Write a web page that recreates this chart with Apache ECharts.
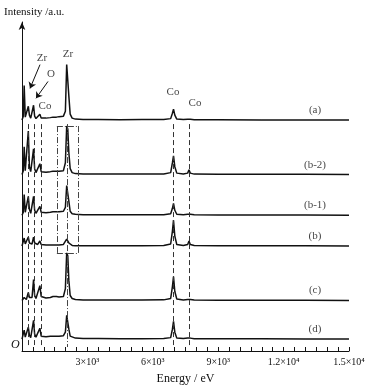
<!DOCTYPE html>
<html><head><meta charset="utf-8">
<script src="https://cdn.jsdelivr.net/npm/echarts@6/dist/echarts.min.js"></script>
<style>html,body{margin:0;padding:0;background:#fff}#c{width:373px;height:390px}</style>
</head><body><div id="c"></div>
<script>
// Energy grid (eV)
const energy = [0, 60, 100, 150, 200, 240, 290, 340, 400, 460, 530, 580, 640, 720, 820, 880, 960, 1100, 1300, 1420, 1500, 1580, 1700, 1900, 1990, 2050, 2100, 2150, 2210, 2300, 2450, 2800, 3500, 4500, 5500, 6500, 6820, 6900, 6950, 7010, 7100, 7400, 7600, 7660, 7720, 7900, 9000, 11000, 13000, 15000];
// Intensities (a.u.) relative to each spectrum's baseline
const specA  = [0, 4, 35, 3, 1, 4, 14, 5, 2, 3, 15, 4, 1.5, 2, 6, 2, 1.5, 2, 2.5, 3, 4, 3, 3.5, 4, 9, 56, 54, 24, 6, 2, 1, 0.5, 0.6, 0.4, 0.5, 0.6, 1.5, 7, 11, 5, 1, 0.5, 0.8, 2, 0.8, 0.4, 0.3, 0.2, 0.2, 0];
const specB2 = [0, 4, 28, 4, 2, 6, 44, 8, 3, 5, 26, 6, 2, 3, 11, 3, 2, 2.5, 3, 3.5, 5, 3.5, 3.5, 4, 12, 49, 46, 22, 6, 2, 1, 0.6, 0.5, 0.5, 0.5, 0.6, 2, 12, 19, 8, 1.5, 0.6, 1.5, 5, 1.5, 0.5, 0.4, 0.3, 0.3, 0];
const specB1 = [0, 3, 21, 3, 2, 5, 19, 6, 2, 4, 19, 5, 2, 3, 9, 3, 2, 2.5, 3, 3.5, 5, 3.5, 3.5, 4, 8, 30, 28, 14, 4, 1.5, 1, 0.5, 0.5, 0.4, 0.4, 0.5, 1.5, 7, 12, 5, 1, 0.5, 1, 3, 1, 0.4, 0.3, 0.3, 0.2, 0];
const specB  = [0, 2, 8, 2, 1, 3, 9, 3, 1, 2, 9, 3, 1, 1.5, 5, 1.5, 1, 1, 1, 1, 1.5, 1, 1, 1.5, 2.5, 7, 6, 3, 1, 0.5, 0.3, 0.3, 0.3, 0.3, 0.3, 0.5, 2, 15, 26, 10, 1.5, 0.5, 1.5, 5, 1.5, 0.4, 0.3, 0.3, 0.2, 0];
const specC  = [0, 1, 3, 1, 1, 2, 8, 3, 1.5, 3, 21, 5, 2, 3, 15, 4, 2, 2.5, 3, 4, 6, 4, 3.5, 4, 12, 48, 45, 20, 5, 2, 1, 0.5, 0.5, 0.4, 0.4, 0.6, 2, 14, 24, 9, 1.5, 0.5, 1, 3, 1, 0.4, 0.3, 0.3, 0.2, 0];
const specD  = [0, 2, 9, 2, 1, 3, 12, 4, 1.5, 3, 19, 5, 2, 3, 11, 3, 2, 2.5, 3, 3, 4, 3, 3, 3.5, 7, 24, 22, 10, 3, 1.5, 1, 0.5, 0.5, 0.4, 0.4, 0.5, 1.5, 10, 18, 7, 1, 0.5, 1, 3, 1, 0.4, 0.3, 0.3, 0.2, 0];
const spectra = [specA, specB2, specB1, specB, specC, specD];
const spectrumNames = ['(a)', '(b-2)', '(b-1)', '(b)', '(c)', '(d)'];
const offsets = [233, 178, 137, 106, 51, 12];
// X tick labels
const tickValues = [3000, 6000, 9000, 12000, 15000];
const tickLabels = ['3×10³', '6×10³', '9×10³', '1.2×10⁴', '1.5×10⁴'];
// Peak annotations [energy, height, text]
const peakNotes = [[917, 296, 'Zr'], [1330, 279, 'O'], [1055, 247, 'Co'], [2110, 300, 'Zr'], [6927, 261, 'Co'], [7936, 250, 'Co']];
// Guide line energies
const dashEnergies = [300, 560, 880, 6930, 7660];
const zrLine = 2080;
const boxE = [1600, 2600];
const boxV = [227, 99];
const guideTop = 229, guideBottom = 4;
const spectrumLabelE = 13440;

const FONT = '"Liberation Serif", "Times New Roman", serif';
const chart = echarts.init(document.getElementById('c'), null, {renderer: 'canvas'});

const series = spectra.map((s, k) => ({
  type: 'line', name: spectrumNames[k], showSymbol: false, symbol: 'none', animation: false,
  lineStyle: {color: '#111', width: 1.5}, z: 3,
  data: energy.map((e, i) => [e, offsets[k] + s[i]])
}));

const dashStyle = {color: '#333', width: 1, type: [5, 3]};
const dotDash = {color: '#444', width: 1, type: [6, 2, 1, 2]};
const mlData = [];
dashEnergies.forEach(e => mlData.push([{coord: [e, guideTop], lineStyle: dashStyle}, {coord: [e, guideBottom]}]));
mlData.push([{coord: [zrLine, guideTop], lineStyle: dotDash}, {coord: [zrLine, guideBottom]}]);
boxE.forEach(e => mlData.push([{coord: [e, boxV[0]], lineStyle: dotDash}, {coord: [e, boxV[1]]}]));
boxV.forEach(v => mlData.push([{coord: [boxE[0], v], lineStyle: dotDash}, {coord: [boxE[1], v]}]));
// arrows
mlData.push([{coord: [826, 289], symbol: 'none', lineStyle: {color: '#111', width: 1, type: 'solid'}}, {coord: [367, 265], symbol: 'arrow', symbolSize: 6}]);
mlData.push([{coord: [1193, 272], symbol: 'none', lineStyle: {color: '#111', width: 1, type: 'solid'}}, {coord: [642, 255], symbol: 'arrow', symbolSize: 6}]);

series.push({
  type: 'scatter', symbolSize: 0, animation: false, silent: true,
  data: peakNotes.map(p => ({value: [p[0], p[1]], name: p[2]})),
  label: {show: true, position: 'inside', formatter: p => p.name, color: '#111', fontFamily: FONT, fontSize: 11},
  markLine: {silent: true, animation: false, symbol: ['none', 'none'], label: {show: false}, data: mlData}
});
series.push({
  type: 'scatter', symbolSize: 0, animation: false, silent: true,
  data: spectrumNames.map((n, k) => ({value: [spectrumLabelE, offsets[k] + 10], name: n})),
  label: {show: true, position: 'inside', formatter: p => p.name, color: '#111', fontFamily: FONT, fontSize: 11}
});

chart.setOption({
  backgroundColor: '#fff',
  animation: false,
  grid: {left: 22, right: 24, top: 22, bottom: 36},
  xAxis: {
    type: 'value', min: 0, max: 15000, interval: 500,
    name: 'Energy / eV', nameLocation: 'middle', nameGap: 22,
    nameTextStyle: {fontFamily: FONT, fontSize: 12, color: '#111'},
    axisLine: {lineStyle: {color: '#111', width: 1}},
    axisTick: {inside: true, length: 4, lineStyle: {color: '#111'}},
    axisLabel: {margin: 6, fontFamily: FONT, fontSize: 10, color: '#111',
      formatter: v => { const i = tickValues.indexOf(v); return i >= 0 ? tickLabels[i] : ''; }},
    splitLine: {show: false}
  },
  yAxis: {
    type: 'value', min: 0, max: 332,
    axisLine: {show: true, symbol: ['none', 'arrow'], symbolSize: [5, 8], lineStyle: {color: '#111', width: 1}},
    axisTick: {show: false}, axisLabel: {show: false}, splitLine: {show: false}
  },
  graphic: [
    {type: 'text', left: 4, top: 7, style: {text: 'Intensity /a.u.', fontFamily: FONT, fontSize: 11, fill: '#111'}},
    {type: 'text', left: 11, top: 339, style: {text: 'O', fontFamily: FONT, fontSize: 12, fontStyle: 'italic', fill: '#111'}}
  ],
  series: series
});
</script></body></html>
